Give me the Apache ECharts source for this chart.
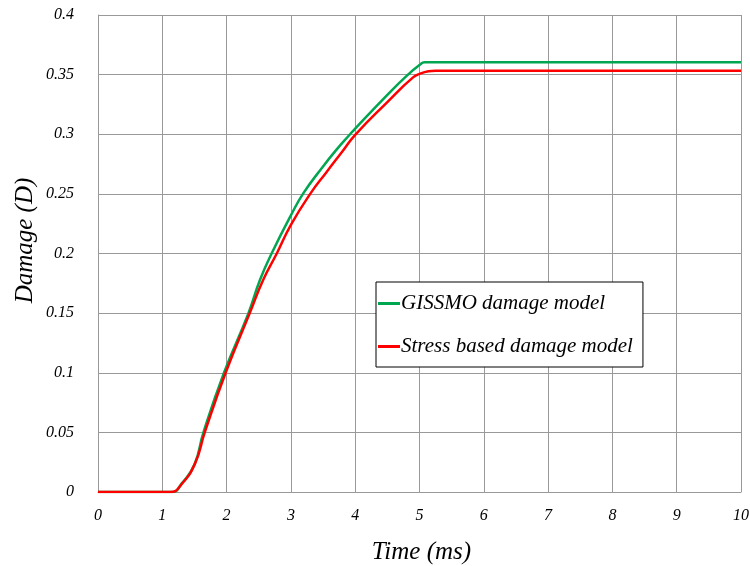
<!DOCTYPE html>
<html><head><meta charset="utf-8">
<script src="https://cdn.jsdelivr.net/npm/echarts@6/dist/echarts.min.js"></script>
<style>html,body{margin:0;padding:0;background:#fff}#c{width:750px;height:566px}</style>
</head><body><div id="c"></div>
<script>
const seriesNames = ['GISSMO damage model', 'Stress based damage model'];
const gissmoX = [0, 1, 1.16, 1.3, 1.5, 1.64, 1.96, 2.34, 2.52, 2.70, 3.0, 3.2, 3.5, 3.7, 3.92, 4.0, 4.5, 4.8, 5.0, 5.08, 6, 7, 8, 9, 10];
const gissmoY = [0, 0, 0, 0.007, 0.023, 0.05, 0.1, 0.15, 0.178, 0.2, 0.232, 0.251, 0.273, 0.2865, 0.3, 0.3048, 0.333, 0.349, 0.358, 0.3603, 0.3603, 0.3603, 0.3603, 0.3603, 0.3603];
const stressX = [0, 1, 1.13, 1.3, 1.51, 1.66, 1.985, 2.36, 2.57, 2.78, 3.0, 3.3, 3.55, 3.8, 4.0, 4.5, 4.9, 5.02, 5.14, 5.25, 6, 7, 8, 9, 10];
const stressY = [0, 0, 0, 0.0065, 0.024, 0.05, 0.1, 0.15, 0.178, 0.2, 0.224, 0.25, 0.268, 0.2855, 0.2995, 0.327, 0.3477, 0.351, 0.3528, 0.3533, 0.3533, 0.3533, 0.3533, 0.3533, 0.3533];
const colors = ['#00a650', '#ff0000'];

const font = 'Liberation Serif';
const chart = echarts.init(document.getElementById('c'));
const zip = (xs, ys) => xs.map((x, i) => [x, ys[i]]);
chart.setOption({
  animation: false,
  grid: {left: 98, right: 9, top: 15, bottom: 74, containLabel: false, outerBoundsMode: 'none'},
  xAxis: {
    type: 'value', min: 0, max: 10, interval: 1,
    name: 'Time (ms)', nameLocation: 'middle', nameGap: 48, nameMoveOverlap: false,
    nameTextStyle: {fontFamily: font, fontStyle: 'italic', fontSize: 25, color: '#000', padding: [0, 0, 0, 4]},
    axisLine: {show: true, lineStyle: {color: '#999'}},
    axisTick: {show: false},
    axisLabel: {fontFamily: font, fontStyle: 'italic', fontSize: 16, color: '#000', margin: 16},
    splitLine: {show: true, lineStyle: {color: '#999', width: 1}}
  },
  yAxis: {
    type: 'value', min: 0, max: 0.4, interval: 0.05,
    name: 'Damage (D)', nameLocation: 'middle', nameGap: 60, nameMoveOverlap: false,
    nameTextStyle: {fontFamily: font, fontStyle: 'italic', fontSize: 25, color: '#000', padding: [0, 0, 0, 26]},
    axisLine: {show: true, lineStyle: {color: '#999'}},
    axisTick: {show: false},
    axisLabel: {fontFamily: font, fontStyle: 'italic', fontSize: 16, color: '#000', margin: 24},
    splitLine: {show: true, lineStyle: {color: '#999', width: 1}}
  },
  legend: {
    orient: 'vertical', left: 376, top: 282,
    backgroundColor: '#fff', borderColor: '#000', borderWidth: 1,
    padding: [11, 10, 10, 2], itemGap: 22,
    icon: 'rect', itemWidth: 22, itemHeight: 3,
    textStyle: {fontFamily: font, fontStyle: 'italic', fontSize: 21, color: '#000', padding: [0, 0, 0, -4]},
    data: seriesNames
  },
  series: [
    {name: seriesNames[0], type: 'line', data: zip(gissmoX, gissmoY), showSymbol: false, smooth: 0.5, color: colors[0], lineStyle: {width: 2.5}, z: 3},
    {name: seriesNames[1], type: 'line', data: zip(stressX, stressY), showSymbol: false, smooth: 0.5, color: colors[1], lineStyle: {width: 2.5}, z: 4}
  ]
});
</script></body></html>
